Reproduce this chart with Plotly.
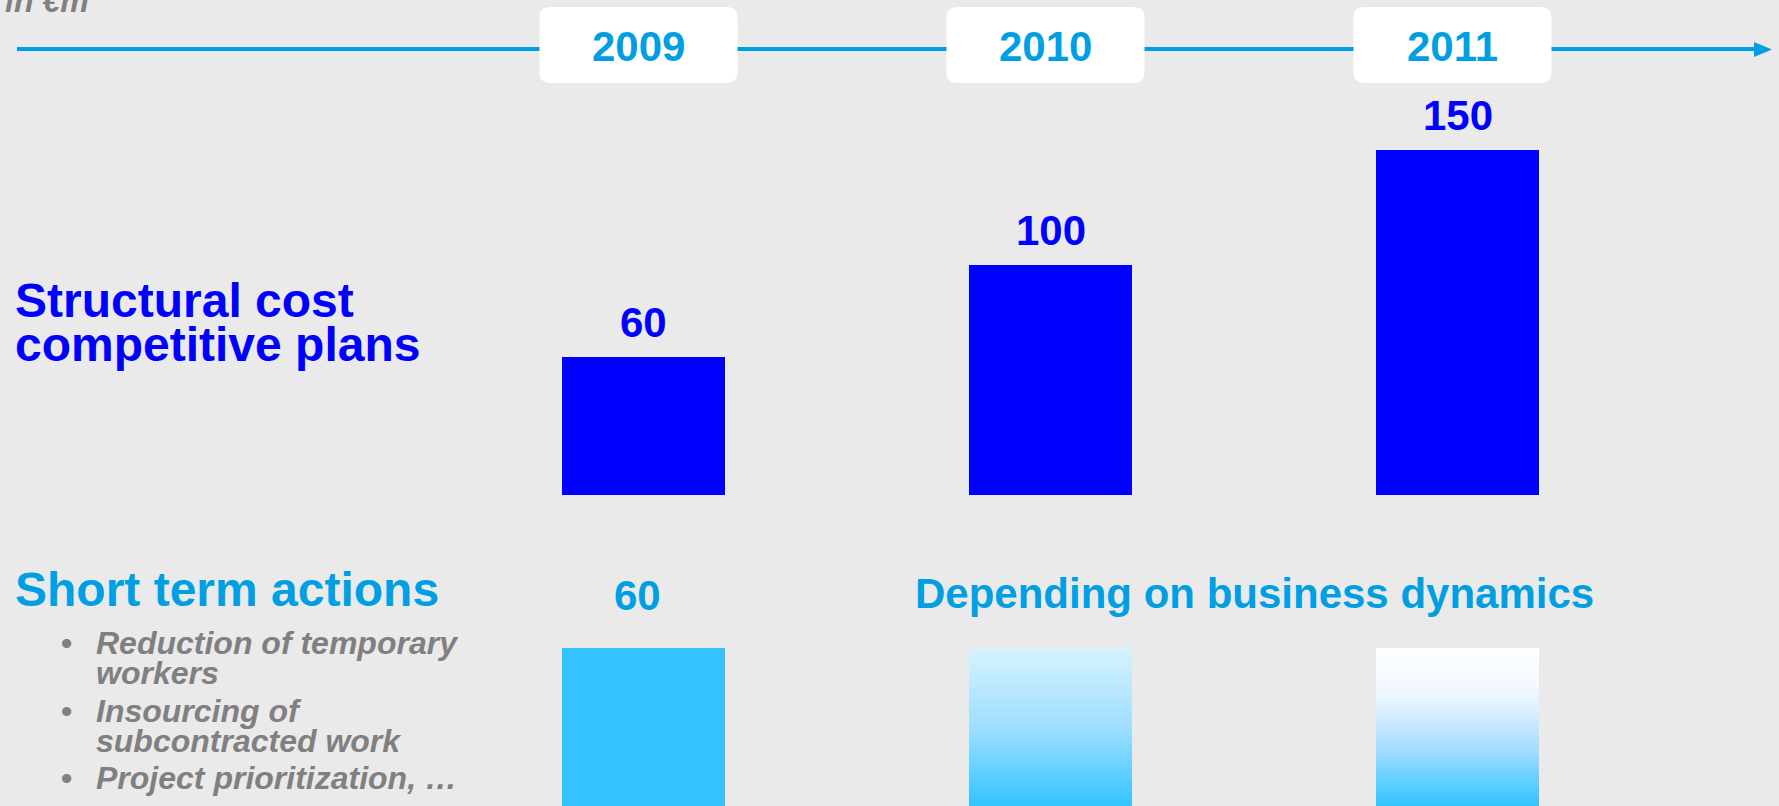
import plotly.graph_objects as go

# ---------------- data ----------------
years = ["2009", "2010", "2011"]
structural_values = [60, 100, 150]
short_term_2009 = 60
short_term_placeholder = [60, 60, 60]  # drawn height of the short-term bars (2010/2011 undetermined)
short_term_note = "Depending on business dynamics"
unit_label = "in €m"
structural_title = ["Structural cost", "competitive plans"]
short_term_title = "Short term actions"
bullet_items = [
    ["Reduction of temporary", "workers"],
    ["Insourcing of", "subcontracted work"],
    ["Project prioritization, …"],
]

# ---------------- style ----------------
W, H = 1779, 806
BG = "#EAEAEA"
BLUE = "#0000FF"
CYAN = "#009FE3"
LIGHT = "#33C4FF"
GREY = "#808080"
FONT = "Liberation Sans, Arial, sans-serif"

XD0, XD1 = 440, 1661          # x-domain in pixels
TOP_BASE, TOP_TOP = 495, 80   # top subplot domain in pixels
PX_PER_UNIT = 2.297
BOT_TOP = 648                 # top of the short-term bars


def X(px):
    return px / W


def Y(py):
    return (H - py) / H


def cat_px(i):
    return XD0 + (i + 0.5) / len(years) * (XD1 - XD0)


def baseline_y(baseline_px, fs):
    # paper y for an annotation anchored at bottom so that the text baseline lands on baseline_px
    return Y(baseline_px + 0.212 * fs + 1)


fig = go.Figure()

# top bars
fig.add_trace(go.Bar(
    x=years, y=structural_values, marker=dict(color=BLUE, line=dict(width=0)),
    xaxis="x", yaxis="y", hoverinfo="skip", showlegend=False,
))

# bottom bars: 2009 solid
fig.add_trace(go.Bar(
    x=[years[0]], y=[short_term_placeholder[0]], marker=dict(color=LIGHT, line=dict(width=0)),
    xaxis="x2", yaxis="y2", hoverinfo="skip", showlegend=False,
))


def interp(stops, t):
    for (t0, c0), (t1, c1) in zip(stops[:-1], stops[1:]):
        if t0 <= t <= t1:
            f = (t - t0) / (t1 - t0) if t1 > t0 else 0
            return "rgb(%d,%d,%d)" % tuple(round(a + (b - a) * f) for a, b in zip(c0, c1))
    return "rgb(%d,%d,%d)" % stops[-1][1]


# gradient stops from top (0) to bottom (1)
grad_2010 = [(0, (213, 242, 252)), (0.5, (160, 222, 255)), (1, (51, 196, 255))]
grad_2011 = [(0, (255, 255, 255)), (0.3, (238, 247, 255)), (0.6, (175, 222, 255)), (1, (51, 196, 255))]
N = 40
for k in range(N):
    t = 1 - (k + 0.5) / N  # k=0 is the bottom segment
    fig.add_trace(go.Bar(
        x=years[1:], y=[v / N for v in short_term_placeholder[1:]],
        marker=dict(color=[interp(grad_2010, t), interp(grad_2011, t)], line=dict(width=0)),
        xaxis="x2", yaxis="y2", hoverinfo="skip", showlegend=False,
    ))

annotations = []
shapes = []

# timeline
shapes.append(dict(type="line", xref="paper", yref="paper", x0=X(17), x1=X(1757), y0=Y(49), y1=Y(49),
                   line=dict(color=CYAN, width=4), layer="above"))
shapes.append(dict(type="path", xref="paper", yref="paper",
                   path=f"M {X(1754)},{Y(42)} L {X(1772)},{Y(49.5)} L {X(1754)},{Y(57)} Z",
                   fillcolor=CYAN, line=dict(width=0), layer="above"))


def rrect(x0, y0, x1, y1, r):
    return (f"M {X(x0 + r)},{Y(y0)} L {X(x1 - r)},{Y(y0)} Q {X(x1)},{Y(y0)} {X(x1)},{Y(y0 + r)} "
            f"L {X(x1)},{Y(y1 - r)} Q {X(x1)},{Y(y1)} {X(x1 - r)},{Y(y1)} "
            f"L {X(x0 + r)},{Y(y1)} Q {X(x0)},{Y(y1)} {X(x0)},{Y(y1 - r)} "
            f"L {X(x0)},{Y(y0 + r)} Q {X(x0)},{Y(y0)} {X(x0 + r)},{Y(y0)} Z")


for i, yr in enumerate(years):
    c = cat_px(i) - 5
    shapes.append(dict(type="path", xref="paper", yref="paper", path=rrect(c - 99, 7, c + 99, 83, 11),
                       fillcolor="white", line=dict(width=0), layer="above"))
    annotations.append(dict(text=f"<b>{yr}</b>", xref="paper", yref="paper", x=X(c), y=baseline_y(62, 42),
                            xanchor="center", yanchor="bottom", showarrow=False,
                            font=dict(family=FONT, size=42, color=CYAN)))

# value labels above top bars (category axes take the category index)
for i, v in enumerate(structural_values):
    annotations.append(dict(text=f"<b>{v}</b>", xref="x", yref="y", x=i, y=v, yanchor="bottom",
                            xanchor="center", yshift=9, showarrow=False,
                            font=dict(family=FONT, size=42, color=BLUE)))

# unit label (partly cut off at the top)
annotations.append(dict(text=f"<b><i>{unit_label}</i></b>", xref="paper", yref="paper", x=X(91),
                        y=baseline_y(13, 32), xanchor="right", yanchor="bottom", showarrow=False,
                        font=dict(family=FONT, size=32, color=GREY)))

# left titles
for line, bl in zip(structural_title, [318, 362]):
    annotations.append(dict(text=f"<b>{line}</b>", xref="paper", yref="paper", x=X(13), y=baseline_y(bl, 48),
                            xanchor="left", yanchor="bottom", showarrow=False,
                            font=dict(family=FONT, size=48, color=BLUE)))
annotations.append(dict(text=f"<b>{short_term_title}</b>", xref="paper", yref="paper", x=X(13),
                        y=baseline_y(607, 48), xanchor="left", yanchor="bottom", showarrow=False,
                        font=dict(family=FONT, size=48, color=CYAN)))

# bullets
baselines = [[655, 685], [723, 753], [790]]
for item, bls in zip(bullet_items, baselines):
    annotations.append(dict(text="<b>•</b>", xref="paper", yref="paper", x=X(66), y=baseline_y(bls[0], 32),
                            xanchor="center", yanchor="bottom", showarrow=False,
                            font=dict(family=FONT, size=32, color=GREY)))
    for line, bl in zip(item, bls):
        annotations.append(dict(text=f"<b><i>{line}</i></b>", xref="paper", yref="paper", x=X(94),
                                y=baseline_y(bl, 32), xanchor="left", yanchor="bottom", showarrow=False,
                                font=dict(family=FONT, size=32, color=GREY)))

# short-term labels
annotations.append(dict(text=f"<b>{short_term_2009}</b>", xref="paper", yref="paper", x=X(cat_px(0) - 6),
                        y=baseline_y(611, 42), xanchor="center", yanchor="bottom", showarrow=False,
                        font=dict(family=FONT, size=42, color=CYAN)))
annotations.append(dict(text=f"<b>{short_term_note}</b>", xref="paper", yref="paper",
                        x=X((cat_px(1) + cat_px(2)) / 2), y=baseline_y(609, 42), xanchor="center",
                        yanchor="bottom", showarrow=False, font=dict(family=FONT, size=42, color=CYAN)))

axis_common = dict(showgrid=False, zeroline=False, showticklabels=False, showline=False, ticks="")
fig.update_layout(
    width=W, height=H, autosize=False,
    margin=dict(l=0, r=0, t=0, b=0, pad=0),
    paper_bgcolor=BG, plot_bgcolor=BG,
    barmode="stack", bargap=0.6,
    showlegend=False,
    xaxis=dict(domain=[X(XD0), X(XD1)], type="category", categoryorder="array", categoryarray=years,
               anchor="y", range=[-0.5, 2.5], **axis_common),
    yaxis=dict(domain=[Y(TOP_BASE), Y(TOP_TOP)], range=[0, (TOP_BASE - TOP_TOP) / PX_PER_UNIT],
               anchor="x", **axis_common),
    xaxis2=dict(domain=[X(XD0), X(XD1)], type="category", categoryorder="array", categoryarray=years,
                anchor="y2", range=[-0.5, 2.5], **axis_common),
    yaxis2=dict(domain=[0, Y(BOT_TOP)], range=[0, max(short_term_placeholder)], anchor="x2", **axis_common),
    annotations=annotations,
    shapes=shapes,
)

fig.write_html("out.html")
